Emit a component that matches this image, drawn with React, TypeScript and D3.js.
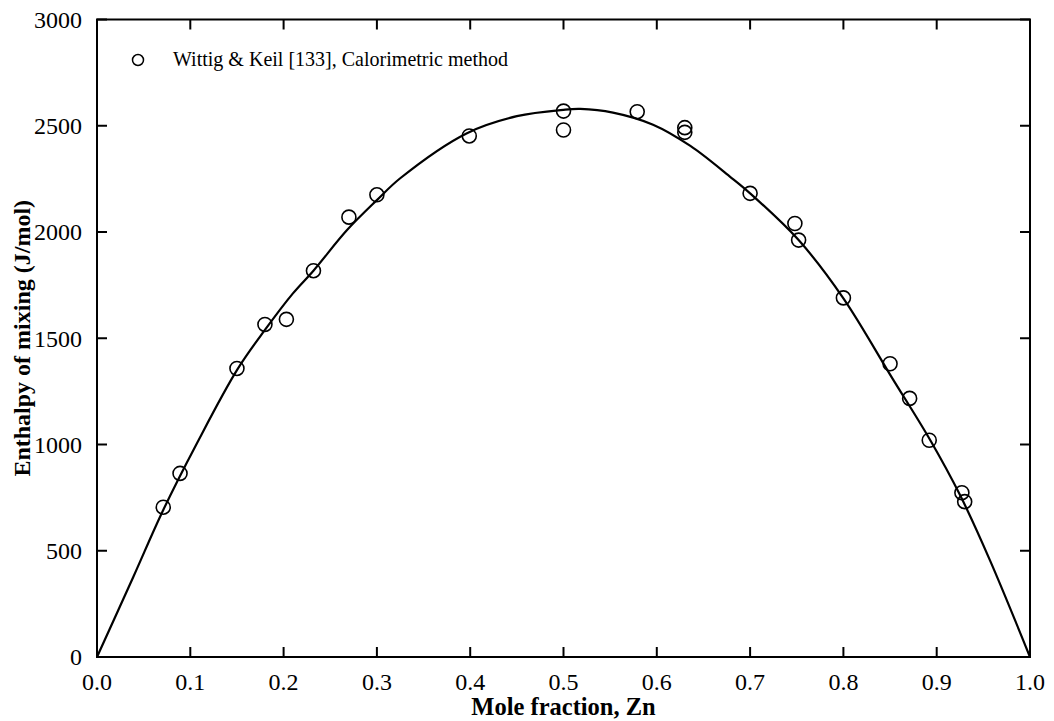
import React from "react";
import * as d3 from "d3";

const xTicks = [0, 0.1, 0.2, 0.3, 0.4, 0.5, 0.6, 0.7, 0.8, 0.9, 1.0];
const yTicks = [0, 500, 1000, 1500, 2000, 2500, 3000];

// Experimental points: Wittig & Keil [133]
const expX = [0.071, 0.089, 0.150, 0.180, 0.203, 0.232, 0.270, 0.300, 0.399, 0.500, 0.500, 0.579, 0.630, 0.630, 0.700, 0.748, 0.752, 0.800, 0.850, 0.871, 0.892, 0.927, 0.930];
const expY = [705, 864, 1358, 1565, 1589, 1818, 2070, 2175, 2452, 2569, 2480, 2566, 2491, 2469, 2182, 2040, 1962, 1690, 1380, 1217, 1020, 773, 731];

// Calculated curve
const curveX = [0, 0.039, 0.071, 0.107, 0.150, 0.180, 0.210, 0.232, 0.268, 0.300, 0.325, 0.396, 0.450, 0.500, 0.518, 0.553, 0.596, 0.636, 0.678, 0.700, 0.752, 0.800, 0.852, 0.893, 0.925, 0.957, 1.0];
const curveY = [0, 378, 692, 1005, 1350, 1539, 1711, 1818, 2009, 2150, 2253, 2464, 2545, 2575, 2579, 2562, 2505, 2405, 2262, 2182, 1962, 1688, 1315, 1021, 762, 456, 0];

const legendLabel = "Wittig & Keil [133], Calorimetric method";
const xTitle = "Mole fraction, Zn";
const yTitle = "Enthalpy of mixing (J/mol)";

const W = 1054;
const H = 721;
const left = 97;
const right = 1030;
const top = 19.5;
const bottom = 657;
const font = "'Liberation Serif', 'Times New Roman', serif";

export default function App() {
  const x = d3.scaleLinear().domain([0, 1]).range([left, right]);
  const y = d3.scaleLinear().domain([0, 3000]).range([bottom, top]);
  const line = d3
    .line<number>()
    .x((_, i) => x(curveX[i]))
    .y((d) => y(d))
    .curve(d3.curveCatmullRom.alpha(0.5));
  const tl = 10;
  return (
    <svg
      width={W}
      height={H}
      style={{ position: "absolute", left: 0, top: 0, background: "#fff" }}
      fontFamily={font}
    >
      <rect x={0} y={0} width={W} height={H} fill="#fff" />
      <path d={line(curveY) || ""} fill="none" stroke="#000" strokeWidth={2.2} />
      {expX.map((v, i) => (
        <circle key={i} cx={x(v)} cy={y(expY[i])} r={7} fill="none" stroke="#000" strokeWidth={1.6} />
      ))}
      {/* frame */}
      <rect x={left} y={top} width={right - left} height={bottom - top} fill="none" stroke="#000" strokeWidth={2} />
      {xTicks.map((t) => (
        <g key={"x" + t}>
          <line x1={x(t)} x2={x(t)} y1={bottom} y2={bottom - tl} stroke="#000" strokeWidth={2} />
          <line x1={x(t)} x2={x(t)} y1={top} y2={top + tl} stroke="#000" strokeWidth={2} />
          <text x={x(t)} y={690} textAnchor="middle" fontSize={24} fill="#000">
            {d3.format(".1f")(t)}
          </text>
        </g>
      ))}
      {yTicks.map((t) => (
        <g key={"y" + t}>
          <line x1={left} x2={left + tl} y1={y(t)} y2={y(t)} stroke="#000" strokeWidth={2} />
          <line x1={right} x2={right - tl} y1={y(t)} y2={y(t)} stroke="#000" strokeWidth={2} />
          <text x={82} y={y(t)} dy="0.35em" textAnchor="end" fontSize={24} fill="#000">
            {t}
          </text>
        </g>
      ))}
      {/* legend */}
      <circle cx={138} cy={60} r={5.5} fill="none" stroke="#000" strokeWidth={1.5} />
      <text x={173} y={66} fontSize={22} textLength={335} lengthAdjust="spacingAndGlyphs" fill="#000">
        {legendLabel}
      </text>
      <text x={(left + right) / 2} y={715} textAnchor="middle" fontSize={24.5} fontWeight="bold" fill="#000">
        {xTitle}
      </text>
      <text
        transform={`translate(30, ${(top + bottom) / 2}) rotate(-90)`}
        textAnchor="middle"
        fontSize={24}
        fontWeight="bold"
        fill="#000"
      >
        {yTitle}
      </text>
    </svg>
  );
}
